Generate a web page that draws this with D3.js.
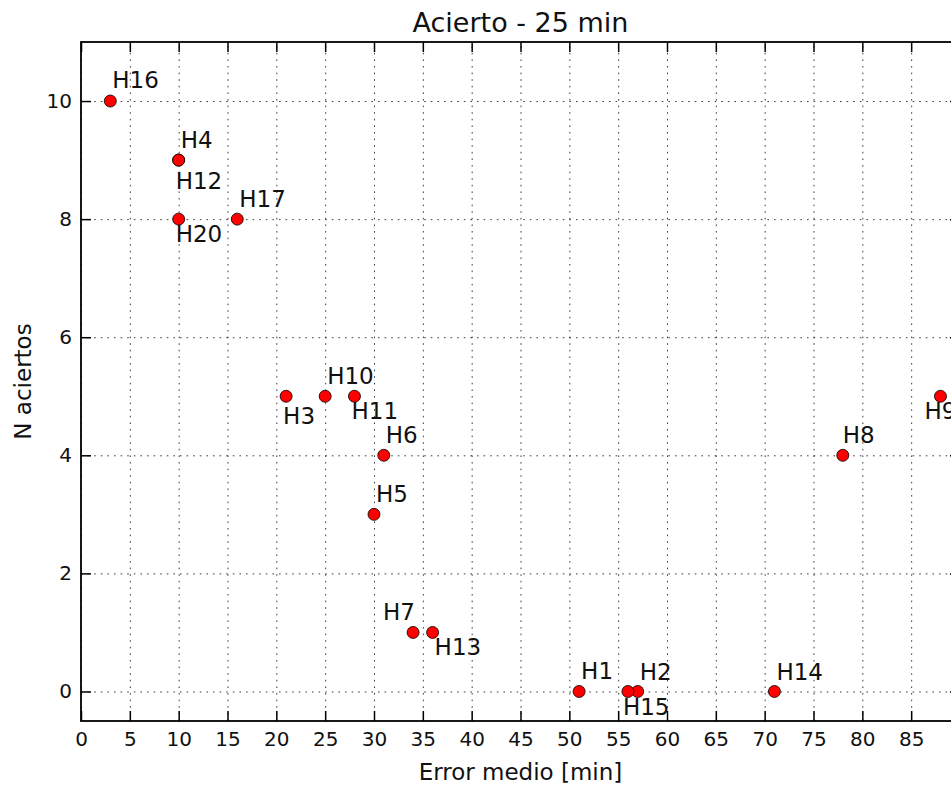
<!DOCTYPE html>
<html>
<head>
<meta charset="utf-8">
<script src="https://cdn.jsdelivr.net/npm/d3@7"></script>
<style>
  html, body { margin: 0; padding: 0; background: #fff; }
  svg { display: block; font-family: "DejaVu Sans", sans-serif; }
</style>
</head>
<body>
<svg id="chart" width="951" height="789"></svg>
<script>
// Hits versus mean error for each participant
const names  = ["H1", "H2", "H3", "H4", "H5", "H6", "H7", "H8", "H9", "H10",
                "H11", "H12", "H13", "H14", "H15", "H16", "H17", "H20"];
const errors = [51, 57, 21, 10, 30, 31, 34, 78, 88, 25,
                28, 10, 36, 71, 56, 3, 16, 10];
const hits   = [0, 0, 5, 9, 3, 4, 1, 4, 5, 5,
                5, 9, 1, 0, 0, 10, 8, 8];

const xTicks = [0, 5, 10, 15, 20, 25, 30, 35, 40, 45, 50, 55, 60, 65, 70, 75, 80, 85, 90];
const xTickLabels = [0, 5, 10, 15, 20, 25, 30, 35, 40, 45, 50, 55, 60, 65, 70, 75, 80, 85];
const yTicks = [0, 2, 4, 6, 8, 10];

// Label placement relative to each marker (pixels)
const labelOffset = {
  H1: [2, -12], H2: [2, -11], H3: [-3, 28], H4: [2, -12], H5: [2, -12],
  H6: [2, -12], H7: [-30, -12], H8: [0, -12], H9: [-16, 23], H10: [2, -12],
  H11: [-3, 23], H12: [-3, 29], H13: [2, 23], H14: [2, -11], H15: [-5, 24],
  H16: [2, -13], H17: [2, -12], H20: [-3, 23]
};

const points = names.map((n, i) => ({ name: n, x: errors[i], y: hits[i] }));

const svg = d3.select("#chart");
const mLeft = 81, mTop = 42, mRight = 960, mBottom = 721;
const w = mRight - mLeft, h = mBottom - mTop;

const x = d3.scaleLinear().domain([0, 90]).range([0, w]);
const y = d3.scaleLinear().domain([-0.5, 11]).range([h, 0]);

const g = svg.append("g").attr("transform", `translate(${mLeft},${mTop})`);

// dotted grid
const gridX = g.append("g").attr("transform", `translate(0,${h})`)
  .call(d3.axisBottom(x).tickValues(xTicks).tickSize(-h).tickFormat(""));
const gridY = g.append("g")
  .call(d3.axisLeft(y).tickValues(yTicks).tickSize(-w).tickFormat(""));
[gridX, gridY].forEach(s => {
  s.select(".domain").remove();
  s.selectAll(".tick line")
    .attr("stroke", "#000").attr("stroke-width", 0.9)
    .attr("stroke-dasharray", "1.6,5").attr("opacity", 0.85);
});

// markers
g.append("g").selectAll("circle").data(points).join("circle")
  .attr("cx", d => x(d.x)).attr("cy", d => y(d.y)).attr("r", 6)
  .attr("fill", "#ff0000").attr("stroke", "#000").attr("stroke-width", 0.8);

// point labels
g.append("g").selectAll("text").data(points).join("text")
  .attr("x", d => x(d.x) + labelOffset[d.name][0])
  .attr("y", d => y(d.y) + labelOffset[d.name][1])
  .attr("font-size", 23).attr("fill", "#111")
  .text(d => d.name);

// axes with inward ticks on all four sides
const styleAxis = (s, fs) => {
  s.select(".domain").remove();
  s.selectAll(".tick line").attr("stroke", "#000").attr("stroke-width", 1.5);
  s.selectAll(".tick text").attr("font-size", fs).attr("fill", "#111")
    .attr("font-family", "DejaVu Sans, sans-serif");
};

g.append("g").attr("transform", `translate(0,${h})`)
  .call(d3.axisBottom(x).tickValues(xTicks).tickSizeInner(-10).tickSizeOuter(0).tickFormat(""))
  .call(s => styleAxis(s, 20));
g.append("g").attr("transform", `translate(0,${h})`)
  .call(d3.axisBottom(x).tickValues(xTickLabels).tickSize(0).tickPadding(11))
  .call(s => styleAxis(s, 20));
g.append("g")
  .call(d3.axisLeft(y).tickValues(yTicks).tickSizeInner(-10).tickSizeOuter(0).tickPadding(9))
  .call(s => styleAxis(s, 20));
g.append("g")
  .call(d3.axisTop(x).tickValues(xTicks).tickSizeInner(-10).tickSizeOuter(0).tickFormat(""))
  .call(s => styleAxis(s, 20));
g.append("g").attr("transform", `translate(${w},0)`)
  .call(d3.axisRight(y).tickValues(yTicks).tickSizeInner(-10).tickSizeOuter(0).tickFormat(""))
  .call(s => styleAxis(s, 20));

// frame
g.append("rect").attr("width", w).attr("height", h)
  .attr("fill", "none").attr("stroke", "#000").attr("stroke-width", 1.8);

// titles
svg.append("text").attr("x", mLeft + w / 2).attr("y", 32)
  .attr("text-anchor", "middle").attr("font-size", 27).attr("fill", "#111")
  .text("Acierto - 25 min");
svg.append("text").attr("x", mLeft + w / 2).attr("y", 780)
  .attr("text-anchor", "middle").attr("font-size", 23).attr("fill", "#111")
  .text("Error medio [min]");
svg.append("text").attr("transform", `translate(31,${mTop + h / 2}) rotate(-90)`)
  .attr("text-anchor", "middle").attr("font-size", 23).attr("fill", "#111")
  .text("N aciertos");
</script>
</body>
</html>
